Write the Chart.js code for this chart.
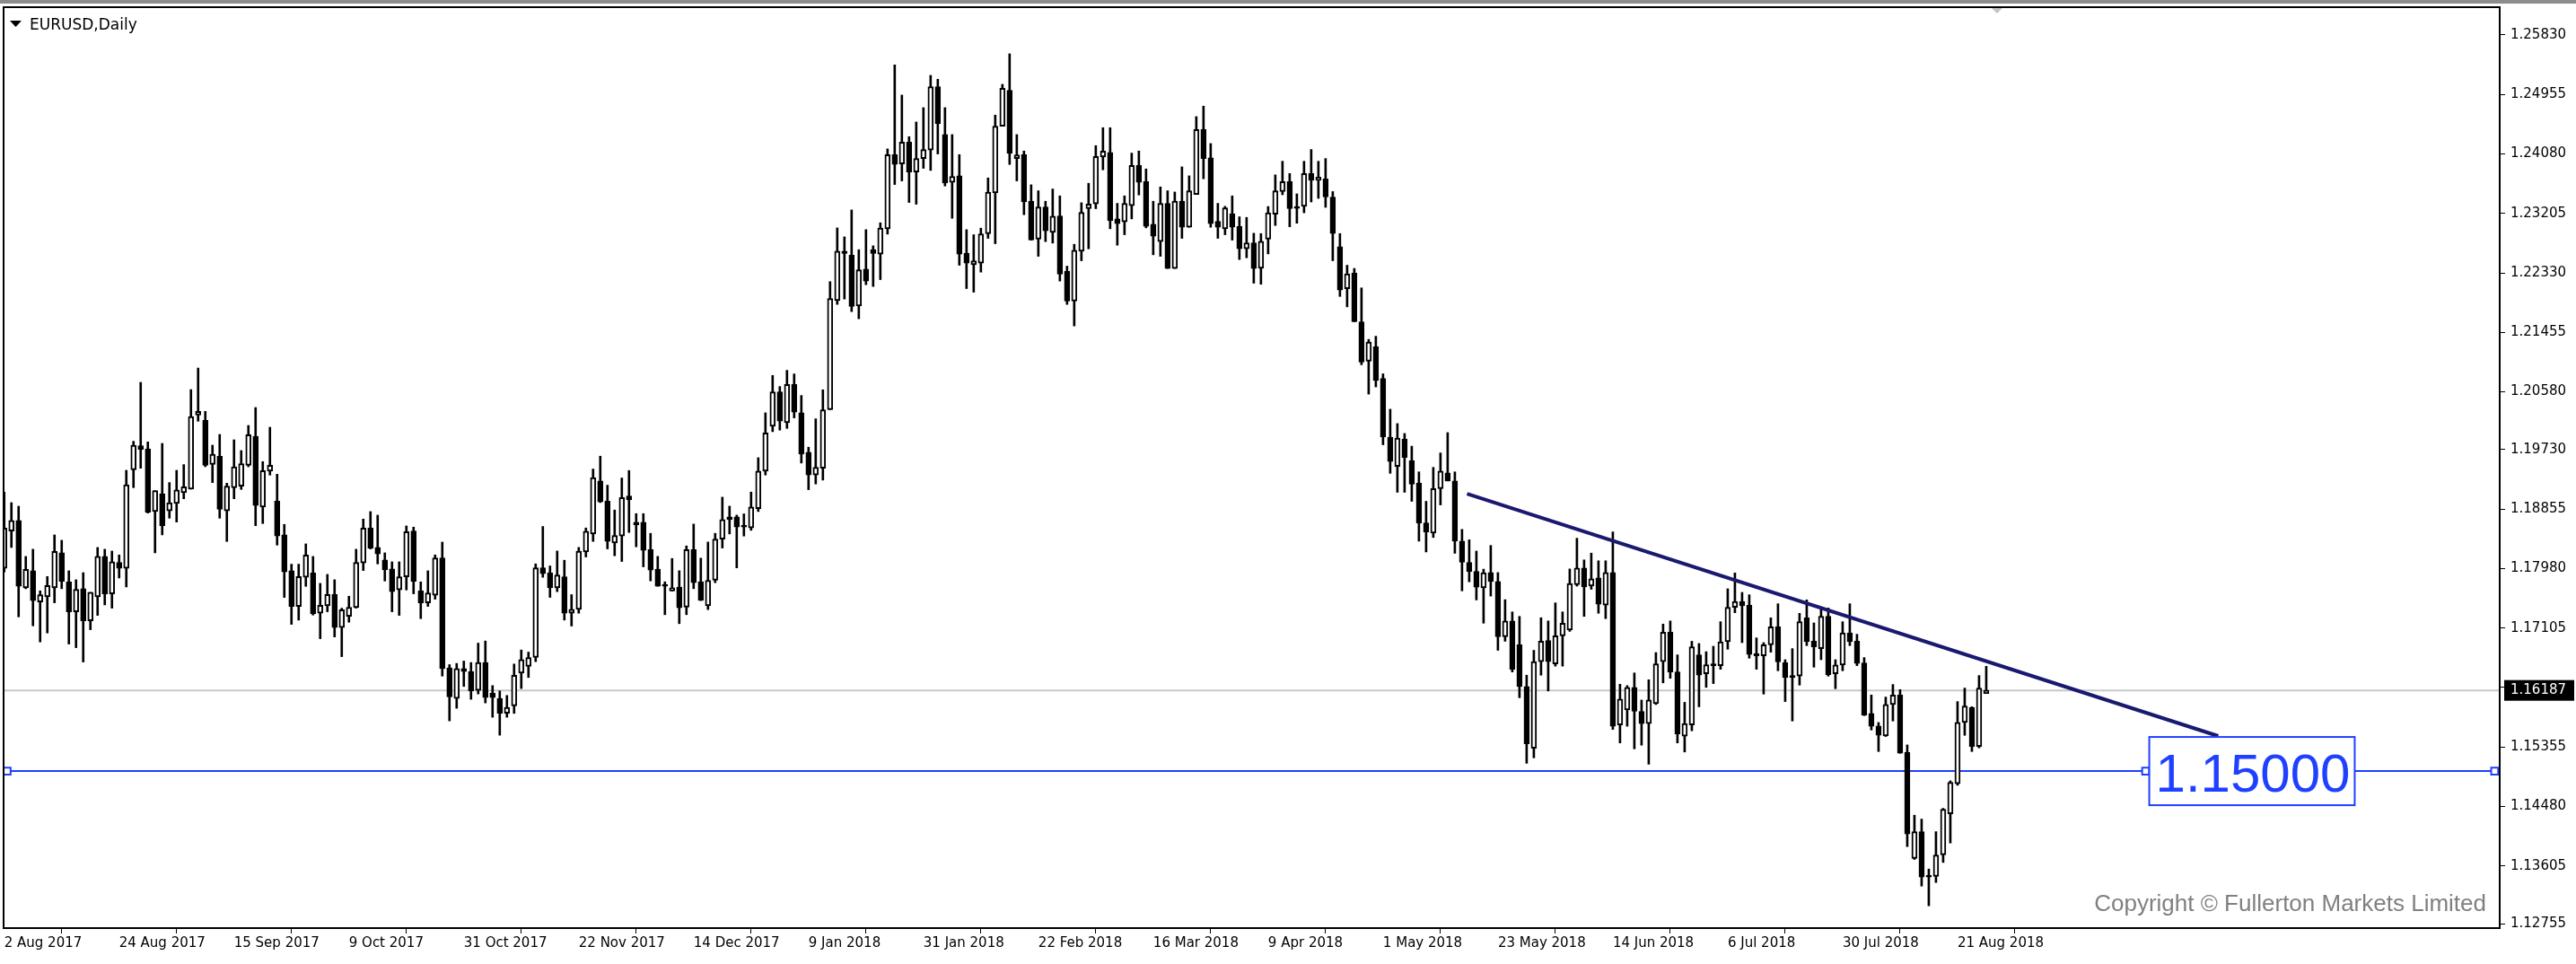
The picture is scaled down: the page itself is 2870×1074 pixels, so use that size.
<!DOCTYPE html>
<html>
<head>
<meta charset="utf-8">
<title>EURUSD,Daily</title>
<script src="https://cdn.jsdelivr.net/npm/chart.js@4/dist/chart.umd.min.js"></script>
<style>
  html, body { margin: 0; padding: 0; background: #fff; }
  #wrap { width: 2870px; height: 1074px; }
</style>
</head>
<body>
<div id="wrap"><canvas id="myChart" width="2870" height="1074"></canvas></div>
<script>
// daily candles, bar 0 = 2 Aug 2017 ... bar 276 = 27 Aug 2018
const opens = [
  1.17982, 1.18532, 1.18686, 1.17696, 1.17947, 1.17489, 1.17564, 1.17696, 1.18211, 1.17784,
  1.17344, 1.17683, 1.17212, 1.17564, 1.18158, 1.17608, 1.18070, 1.17982, 1.19434, 1.19786,
  1.19742, 1.18818, 1.19082, 1.18827, 1.18937, 1.19095, 1.19148, 1.20239, 1.20160, 1.19513,
  1.19632, 1.18827, 1.19170, 1.19192, 1.19500, 1.19927, 1.18884, 1.19412, 1.18972, 1.18475,
  1.17947, 1.17423, 1.17850, 1.17916, 1.17322, 1.17432, 1.17599, 1.17111, 1.17278, 1.17406,
  1.18061, 1.18576, 1.18290, 1.18105, 1.17973, 1.17665, 1.17859, 1.18532, 1.17652, 1.17476,
  1.17586, 1.18136, 1.16518, 1.16069, 1.16509, 1.16465, 1.16188, 1.16597, 1.16144, 1.16069,
  1.15849, 1.15959, 1.16443, 1.16540, 1.16672, 1.17992, 1.17917, 1.17697, 1.17860, 1.17323,
  1.17380, 1.18225, 1.18489, 1.19268, 1.18973, 1.18357, 1.18458, 1.19048, 1.18661, 1.18661,
  1.18260, 1.17970, 1.17728, 1.17649, 1.17706, 1.17411, 1.18260, 1.17785, 1.17433, 1.17807,
  1.18414, 1.18740, 1.18740, 1.18608, 1.18577, 1.18863, 1.19413, 1.20073, 1.20579, 1.20126,
  1.20689, 1.20271, 1.19690, 1.19356, 1.19457, 1.20317, 1.21923, 1.22649, 1.22592, 1.21844,
  1.22385, 1.22671, 1.22605, 1.22979, 1.24070, 1.23934, 1.24255, 1.23815, 1.24013, 1.24136,
  1.25069, 1.24365, 1.23661, 1.23758, 1.22618, 1.22451, 1.22473, 1.22904, 1.23507, 1.24488,
  1.25016, 1.24013, 1.24070, 1.23384, 1.22825, 1.23300, 1.22926, 1.23168, 1.22354, 1.21914,
  1.22649, 1.23274, 1.23344, 1.24035, 1.24101, 1.23124, 1.23080, 1.23318, 1.23912, 1.23674,
  1.23045, 1.22790, 1.23353, 1.22394, 1.23384, 1.23001, 1.23485, 1.24440, 1.24022, 1.23089,
  1.22979, 1.23199, 1.23014, 1.22684, 1.22772, 1.22396, 1.22828, 1.23194, 1.23526, 1.23672,
  1.23307, 1.23307, 1.23792, 1.23693, 1.23713, 1.23446, 1.22715, 1.22096, 1.22329, 1.21610,
  1.21031, 1.21244, 1.20778, 1.19914, 1.19481, 1.19887, 1.19568, 1.19235, 1.18650, 1.18503,
  1.19155, 1.19388, 1.19268, 1.18383, 1.18071, 1.17938, 1.17695, 1.17921, 1.17788, 1.16976,
  1.17209, 1.16857, 1.16245, 1.15334, 1.16611, 1.16923, 1.16578, 1.16990, 1.17076, 1.17741,
  1.17987, 1.17721, 1.17841, 1.17442, 1.17921, 1.15680, 1.15899, 1.16232, 1.15879, 1.15700,
  1.15992, 1.16611, 1.17043, 1.16458, 1.15514, 1.15680, 1.16710, 1.16431, 1.16573, 1.16551,
  1.16903, 1.17409, 1.17497, 1.17440, 1.16727, 1.16696, 1.16859, 1.17123, 1.16595, 1.16406,
  1.16397, 1.17255, 1.16912, 1.16802, 1.17277, 1.16432, 1.16560, 1.17035, 1.16912, 1.16591,
  1.15847, 1.15662, 1.15517, 1.15979, 1.16120, 1.15275, 1.13713, 1.14109, 1.13449, 1.13449,
  1.13766, 1.14373, 1.14813, 1.15715, 1.15935, 1.15363, 1.16142
];
const highs = [
  1.19104, 1.18950, 1.18897, 1.18158, 1.18264, 1.17652, 1.17863, 1.18475, 1.18396, 1.17947,
  1.17815, 1.17920, 1.17630, 1.18290, 1.18264, 1.18237, 1.18180, 1.19425, 1.19852, 1.20719,
  1.19843, 1.19126, 1.19821, 1.19245, 1.19425, 1.19509, 1.20613, 1.20930, 1.20292, 1.19795,
  1.19953, 1.19236, 1.19874, 1.19716, 1.20085, 1.20349, 1.19553, 1.20059, 1.19368, 1.18629,
  1.18044, 1.18044, 1.18343, 1.18158, 1.17762, 1.17894, 1.17815, 1.17397, 1.17573, 1.18264,
  1.18708, 1.18818, 1.18765, 1.18211, 1.18079, 1.18079, 1.18607, 1.18589, 1.17784, 1.17947,
  1.18180, 1.18369, 1.16566, 1.16584, 1.16619, 1.16597, 1.16883, 1.16914, 1.16258, 1.16179,
  1.16113, 1.16575, 1.16782, 1.16751, 1.18049, 1.18599, 1.18018, 1.18238, 1.18102, 1.17596,
  1.18291, 1.18577, 1.19444, 1.19633, 1.19206, 1.18841, 1.19312, 1.19422, 1.18788, 1.18788,
  1.18498, 1.18159, 1.17785, 1.18128, 1.17948, 1.18313, 1.18634, 1.18133, 1.18370, 1.18498,
  1.19030, 1.18898, 1.18766, 1.18784, 1.19105, 1.19611, 1.20271, 1.20821, 1.20658, 1.20896,
  1.20843, 1.20526, 1.19765, 1.20183, 1.20610, 1.22201, 1.22992, 1.22860, 1.23256, 1.22671,
  1.22966, 1.22728, 1.23067, 1.24154, 1.25390, 1.24946, 1.24334, 1.24550, 1.24761, 1.25236,
  1.25179, 1.24761, 1.24365, 1.24070, 1.22966, 1.22891, 1.22988, 1.23727, 1.24651, 1.25104,
  1.25553, 1.24365, 1.24123, 1.23626, 1.23538, 1.23384, 1.23564, 1.23463, 1.22429, 1.22750,
  1.23362, 1.23648, 1.24202, 1.24466, 1.24466, 1.23353, 1.23463, 1.24092, 1.24123, 1.23859,
  1.23384, 1.23595, 1.23538, 1.23520, 1.23890, 1.23758, 1.24629, 1.24783, 1.24233, 1.23353,
  1.23309, 1.23463, 1.23155, 1.23146, 1.22913, 1.22908, 1.23306, 1.23772, 1.23972, 1.23792,
  1.23493, 1.23972, 1.24145, 1.23972, 1.24012, 1.23526, 1.22908, 1.22442, 1.22395, 1.22109,
  1.21351, 1.21398, 1.20845, 1.20324, 1.20113, 1.19967, 1.19780, 1.19402, 1.18969, 1.19468,
  1.19681, 1.19980, 1.19402, 1.18556, 1.18403, 1.18237, 1.17971, 1.18320, 1.17921, 1.17522,
  1.17342, 1.17276, 1.16411, 1.16777, 1.17256, 1.17209, 1.17475, 1.17342, 1.17974, 1.18426,
  1.18107, 1.18207, 1.18094, 1.18094, 1.18519, 1.16278, 1.16258, 1.16444, 1.16045, 1.16344,
  1.16744, 1.17163, 1.17209, 1.16710, 1.16012, 1.16910, 1.16877, 1.16757, 1.16837, 1.17198,
  1.17682, 1.17915, 1.17629, 1.17594, 1.16960, 1.16890, 1.17255, 1.17462, 1.16639, 1.16802,
  1.17321, 1.17519, 1.17180, 1.17409, 1.17400, 1.16639, 1.17198, 1.17462, 1.17013, 1.16670,
  1.16120, 1.15715, 1.16089, 1.16274, 1.16199, 1.15385, 1.14351, 1.14294, 1.13559, 1.14109,
  1.14452, 1.14857, 1.16023, 1.16221, 1.15948, 1.16406, 1.16542
];
const lows = [
  1.17929, 1.18290, 1.17269, 1.17683, 1.17137, 1.16900, 1.17032, 1.17476, 1.17683, 1.16869,
  1.16816, 1.16605, 1.17080, 1.17291, 1.17445, 1.17397, 1.17841, 1.17709, 1.19170, 1.19456,
  1.18796, 1.18211, 1.18475, 1.18721, 1.18664, 1.19007, 1.19148, 1.20147, 1.19478, 1.19245,
  1.18721, 1.18378, 1.19007, 1.19144, 1.19478, 1.18611, 1.18642, 1.19355, 1.18325, 1.17555,
  1.17159, 1.17221, 1.17718, 1.17296, 1.16948, 1.17344, 1.16974, 1.16684, 1.17190, 1.17397,
  1.17951, 1.18268, 1.18048, 1.17797, 1.17344, 1.17291, 1.17665, 1.17608, 1.17243, 1.17423,
  1.17529, 1.16398, 1.15739, 1.15924, 1.16245, 1.16056, 1.16135, 1.16003, 1.15792, 1.15528,
  1.15792, 1.15849, 1.16214, 1.16377, 1.16610, 1.17851, 1.17556, 1.17640, 1.17222, 1.17134,
  1.17323, 1.18150, 1.18379, 1.18951, 1.18269, 1.18168, 1.18084, 1.18511, 1.18300, 1.18005,
  1.17798, 1.17719, 1.17301, 1.17649, 1.17169, 1.17301, 1.17684, 1.17508, 1.17376, 1.17772,
  1.18282, 1.18489, 1.17990, 1.18458, 1.18542, 1.18819, 1.19356, 1.19994, 1.20016, 1.20042,
  1.20196, 1.19532, 1.19140, 1.19224, 1.19281, 1.20317, 1.21866, 1.21945, 1.21760, 1.21655,
  1.22156, 1.22130, 1.22231, 1.22900, 1.23630, 1.23683, 1.23366, 1.23340, 1.23868, 1.23837,
  1.24079, 1.23608, 1.23133, 1.22442, 1.22099, 1.22046, 1.22341, 1.22838, 1.22759, 1.24488,
  1.23925, 1.23683, 1.23186, 1.22812, 1.22574, 1.22790, 1.22768, 1.22209, 1.21866, 1.21549,
  1.22508, 1.22684, 1.23274, 1.23846, 1.22979, 1.22737, 1.22891, 1.23124, 1.23476, 1.22992,
  1.22596, 1.22574, 1.22394, 1.22394, 1.22838, 1.23001, 1.23485, 1.23714, 1.23001, 1.22838,
  1.22891, 1.22812, 1.22526, 1.22552, 1.22178, 1.22163, 1.22609, 1.23027, 1.23480, 1.23008,
  1.23061, 1.23214, 1.23373, 1.23426, 1.23294, 1.22509, 1.21983, 1.21830, 1.21610, 1.20978,
  1.20546, 1.20652, 1.19801, 1.19381, 1.19102, 1.19102, 1.18969, 1.18383, 1.18224, 1.18437,
  1.18916, 1.19268, 1.18204, 1.17652, 1.17785, 1.17518, 1.17176, 1.17575, 1.16777, 1.16910,
  1.16458, 1.16079, 1.15115, 1.15195, 1.16411, 1.16179, 1.16544, 1.16544, 1.17056, 1.17721,
  1.17276, 1.17675, 1.17322, 1.17243, 1.15613, 1.15414, 1.15660, 1.15327, 1.15381, 1.15101,
  1.15979, 1.16298, 1.16365, 1.15414, 1.15281, 1.15593, 1.15946, 1.16232, 1.16287, 1.16498,
  1.16793, 1.17330, 1.16890, 1.16661, 1.16498, 1.16133, 1.16749, 1.16476, 1.16023, 1.15737,
  1.16265, 1.16846, 1.16529, 1.16639, 1.16397, 1.16212, 1.16476, 1.16846, 1.16551, 1.15816,
  1.15605, 1.15288, 1.15509, 1.15737, 1.15262, 1.13889, 1.13700, 1.13308, 1.13018, 1.13361,
  1.13656, 1.13942, 1.14791, 1.15526, 1.15288, 1.15341, 1.16142
];
const closes = [
  1.18576, 1.18686, 1.17718, 1.17969, 1.17507, 1.17595, 1.17731, 1.18233, 1.17793, 1.17344,
  1.17674, 1.17212, 1.17630, 1.18158, 1.17608, 1.18079, 1.17982, 1.19214, 1.19795, 1.19733,
  1.18809, 1.19126, 1.18611, 1.18950, 1.19135, 1.19183, 1.20217, 1.20292, 1.19500, 1.19663,
  1.18853, 1.19192, 1.19478, 1.19522, 1.19949, 1.18906, 1.19421, 1.19500, 1.18457, 1.17929,
  1.17423, 1.17863, 1.18180, 1.17313, 1.17441, 1.17599, 1.17111, 1.17375, 1.17410, 1.18070,
  1.18576, 1.18277, 1.18193, 1.17960, 1.17639, 1.17859, 1.18523, 1.17793, 1.17476, 1.17621,
  1.18136, 1.16508, 1.16091, 1.16509, 1.16465, 1.16179, 1.16597, 1.16082, 1.16082, 1.15849,
  1.15937, 1.16408, 1.16641, 1.16672, 1.17992, 1.17904, 1.17697, 1.17886, 1.17323, 1.17380,
  1.18234, 1.18529, 1.19319, 1.18960, 1.18379, 1.18467, 1.19026, 1.18995, 1.18625, 1.18247,
  1.17957, 1.17719, 1.17719, 1.17697, 1.17402, 1.18260, 1.17772, 1.17512, 1.17807, 1.18414,
  1.18700, 1.18700, 1.18590, 1.18590, 1.18885, 1.19413, 1.19975, 1.20579, 1.20148, 1.20689,
  1.20280, 1.19664, 1.19356, 1.19470, 1.20315, 1.21954, 1.22649, 1.22614, 1.21835, 1.22376,
  1.22209, 1.22614, 1.22988, 1.24070, 1.23925, 1.24255, 1.23815, 1.24013, 1.24145, 1.25069,
  1.24528, 1.23652, 1.23749, 1.22605, 1.22473, 1.22508, 1.22904, 1.23516, 1.24488, 1.25047,
  1.24088, 1.24066, 1.23375, 1.22812, 1.23300, 1.22948, 1.23164, 1.22310, 1.21914, 1.22662,
  1.23221, 1.23344, 1.24044, 1.24123, 1.23102, 1.23054, 1.23353, 1.23912, 1.23661, 1.23014,
  1.22869, 1.23353, 1.22394, 1.23384, 1.23001, 1.23538, 1.24440, 1.24013, 1.23054, 1.23001,
  1.23287, 1.23001, 1.22684, 1.22772, 1.22394, 1.22795, 1.23213, 1.23539, 1.23672, 1.23274,
  1.23280, 1.23792, 1.23693, 1.23739, 1.23446, 1.22908, 1.22076, 1.22316, 1.21610, 1.21018,
  1.21311, 1.20745, 1.19914, 1.19554, 1.19900, 1.19614, 1.19222, 1.18650, 1.18517, 1.19155,
  1.19415, 1.19268, 1.18383, 1.18071, 1.17938, 1.17705, 1.17917, 1.17788, 1.16976, 1.17209,
  1.16498, 1.16245, 1.15401, 1.16611, 1.16910, 1.16611, 1.16990, 1.17176, 1.17761, 1.17987,
  1.17708, 1.17828, 1.17455, 1.17921, 1.15660, 1.16059, 1.16232, 1.15879, 1.15700, 1.16045,
  1.16578, 1.17043, 1.16458, 1.15547, 1.15700, 1.16830, 1.16411, 1.16564, 1.16551, 1.16903,
  1.17409, 1.17497, 1.17431, 1.16714, 1.16696, 1.16859, 1.17123, 1.16608, 1.16375, 1.16375,
  1.17198, 1.16903, 1.16828, 1.17277, 1.16419, 1.16560, 1.17035, 1.16903, 1.16582, 1.15825,
  1.15658, 1.15526, 1.15979, 1.16120, 1.15262, 1.14074, 1.14109, 1.13440, 1.13440, 1.13766,
  1.14439, 1.14835, 1.15715, 1.15957, 1.15363, 1.16221, 1.16187
];

// x axis: one label every 16 bars
const dateLabels = ['2 Aug 2017', '24 Aug 2017', '15 Sep 2017', '9 Oct 2017', '31 Oct 2017', '22 Nov 2017',
  '14 Dec 2017', '9 Jan 2018', '31 Jan 2018', '22 Feb 2018', '16 Mar 2018', '9 Apr 2018', '1 May 2018',
  '23 May 2018', '14 Jun 2018', '6 Jul 2018', '30 Jul 2018', '21 Aug 2018'];
const barsPerLabel = 16;
const priceTicks = [1.25830, 1.24955, 1.24080, 1.23205, 1.22330, 1.21455, 1.20580, 1.19730,
  1.18855, 1.17980, 1.17105, 1.16230, 1.15355, 1.14480, 1.13605, 1.12755];
const barRange = [-0.09, 347.5];
const priceRange = [1.12690, 1.26239];

// objects drawn on the chart
const bidPrice = 1.16187;
const levelPrice = 1.15;
const levelMarks = [0.4, 298.2, 346.8];
const levelLabelAt = 298.7;
const trendBars = [203.7, 308.3];
const trendPrices = [1.19081, 1.15516];

const BLUE = '#2040ff';

const bodies = opens.map((o, i) => ({ x: i, y: [o, closes[i]] }));
const wicks = lows.map((l, i) => ({ x: i, y: [l, highs[i]] }));
const trendPoints = trendBars.map((b, k) => ({ x: b, y: trendPrices[k] }));
const levelPoints = levelMarks.map(b => ({ x: b, y: levelPrice }));
const bidPoints = barRange.map(b => ({ x: b, y: bidPrice }));

Chart.defaults.font.family = "'DejaVu Sans', sans-serif";
Chart.defaults.color = '#000';

const decorations = {
  id: 'decorations',
  afterDatasetsDraw(chart) {
    const ctx = chart.ctx;
    const xs = chart.scales.x, ys = chart.scales.y;
    // label box of the 1.15000 line
    const txt = levelPrice.toFixed(5);
    ctx.save();
    ctx.font = "60px 'Liberation Sans', sans-serif";
    const tw = ctx.measureText(txt).width;
    const bx = xs.getPixelForValue(levelLabelAt);
    const by = ys.getPixelForValue(levelPrice);
    ctx.fillStyle = '#fff';
    ctx.fillRect(bx, by - 38, tw + 12, 76);
    ctx.strokeStyle = BLUE;
    ctx.lineWidth = 2;
    ctx.strokeRect(bx, by - 38, tw + 12, 76);
    ctx.fillStyle = BLUE;
    ctx.textBaseline = 'alphabetic';
    ctx.fillText(txt, bx + 7, by + 23);
    ctx.restore();
  },
  afterDraw(chart) {
    const ctx = chart.ctx;
    const a = chart.chartArea;
    const xs = chart.scales.x, ys = chart.scales.y;
    ctx.save();
    // window strip on top
    ctx.fillStyle = '#8c8c8c';
    ctx.fillRect(0, 0, chart.width, 4);
    // frame
    ctx.strokeStyle = '#000';
    ctx.lineWidth = 2;
    ctx.strokeRect(a.left, a.top, a.right - a.left, a.bottom - a.top);
    // title
    ctx.fillStyle = '#000';
    ctx.beginPath();
    ctx.moveTo(11, 23); ctx.lineTo(24, 23); ctx.lineTo(17.5, 30); ctx.closePath();
    ctx.fill();
    ctx.font = "17px 'DejaVu Sans', sans-serif";
    ctx.textBaseline = 'alphabetic';
    ctx.fillText('EURUSD,Daily', 33, 33);
    // chart shift marker
    const sx = xs.getPixelForValue(opens.length + 0.5);
    ctx.fillStyle = '#c4c4c4';
    ctx.beginPath();
    ctx.moveTo(sx - 6, a.top + 1); ctx.lineTo(sx + 6, a.top + 1); ctx.lineTo(sx, a.top + 7); ctx.closePath();
    ctx.fill();
    // copyright
    ctx.fillStyle = '#808080';
    ctx.font = "26px 'Liberation Sans', sans-serif";
    ctx.textAlign = 'right';
    ctx.fillText('Copyright \u00A9 Fullerton Markets Limited', a.right - 15, a.bottom - 19);
    // bid price tag on the price axis
    const py = ys.getPixelForValue(bidPrice);
    ctx.fillStyle = '#000';
    ctx.fillRect(a.right + 5, py - 11.5, 78, 23);
    ctx.fillStyle = '#fff';
    ctx.font = "15px 'DejaVu Sans', sans-serif";
    ctx.textAlign = 'left';
    ctx.textBaseline = 'middle';
    ctx.fillText(bidPrice.toFixed(5), a.right + 12, py);
    ctx.restore();
  }
};

const chart = new Chart(document.getElementById('myChart'), {
  type: 'bar',
  data: {
    datasets: [
      {
        type: 'line', label: 'trend', data: trendPoints,
        borderColor: '#191970', borderWidth: 4, pointRadius: 0, order: 0
      },
      {
        type: 'bar', label: 'body', data: bodies,
        backgroundColor: c => closes[c.dataIndex] >= opens[c.dataIndex] ? '#ffffff' : '#000000',
        borderColor: '#000', borderWidth: 2, borderSkipped: false,
        barThickness: 6, maxBarThickness: 6, minBarLength: 2, grouped: false, order: 1
      },
      {
        type: 'bar', label: 'wick', data: wicks,
        backgroundColor: '#000', borderWidth: 0,
        barThickness: 2, maxBarThickness: 2, grouped: false, order: 2
      },
      {
        type: 'line', label: 'level', data: levelPoints,
        borderColor: BLUE, borderWidth: 2,
        pointStyle: 'rect', pointRadius: 5.5, pointBackgroundColor: '#fff',
        pointBorderColor: BLUE, pointBorderWidth: 2, clip: false, order: 3
      },
      {
        type: 'line', label: 'bid', data: bidPoints,
        borderColor: '#c8c8c8', borderWidth: 2, pointRadius: 0, order: 4
      }
    ]
  },
  options: {
    responsive: false,
    animation: false,
    devicePixelRatio: 1,
    layout: { padding: { left: 4, top: 8, right: 0, bottom: 0 }, autoPadding: false },
    plugins: { legend: { display: false }, tooltip: { enabled: false } },
    scales: {
      x: {
        type: 'linear', min: barRange[0], max: barRange[1], offset: false, bounds: 'data',
        grid: { drawOnChartArea: false, drawTicks: true, tickLength: 6, color: '#000', lineWidth: 1 },
        border: { display: false },
        ticks: {
          autoSkip: false, maxRotation: 0, align: 'start', padding: 2,
          font: { size: 15 }, color: '#000',
          callback: v => dateLabels[Math.round(v / barsPerLabel)]
        },
        afterBuildTicks: ax => { ax.ticks = dateLabels.map((_, k) => ({ value: k * barsPerLabel })); },
        afterFit: ax => { ax.height = 40; ax.paddingLeft = 0; ax.paddingRight = 0; }
      },
      y: {
        type: 'linear', position: 'right', min: priceRange[0], max: priceRange[1], bounds: 'data',
        grid: { drawOnChartArea: false, drawTicks: true, tickLength: 6, color: '#000', lineWidth: 1 },
        border: { display: false },
        ticks: { padding: 6, font: { size: 15 }, color: '#000', callback: v => v.toFixed(5) },
        afterBuildTicks: ax => { ax.ticks = priceTicks.map(v => ({ value: v })); },
        afterFit: ax => { ax.width = 85; ax.paddingTop = 0; ax.paddingBottom = 0; }
      }
    }
  },
  plugins: [decorations]
});
</script>
</body>
</html>
